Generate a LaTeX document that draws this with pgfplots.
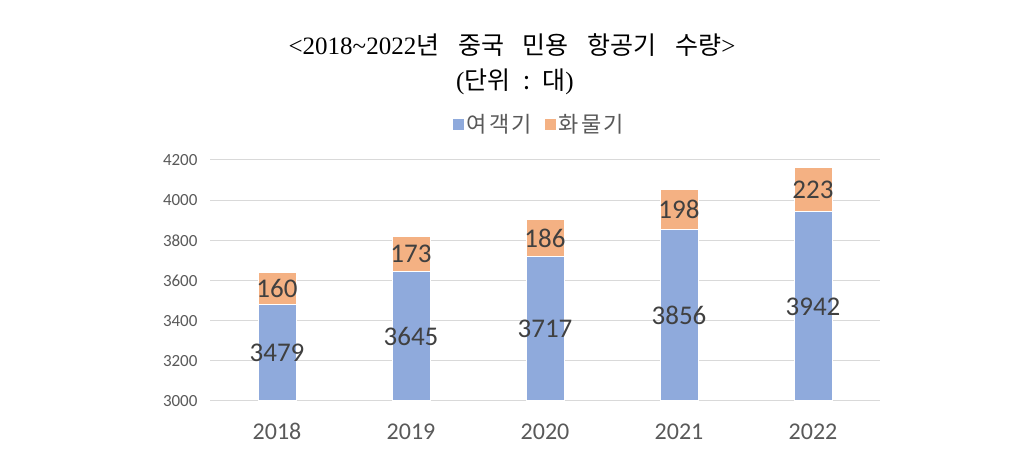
\documentclass[border=0pt]{standalone}
\usepackage{pgfplots}
\usepackage{pgfplotstable}
\pgfplotsset{compat=1.18}
\usepackage{fontspec}
\setmainfont{Carlito}
\newfontfamily\cjk{Noto Sans CJK KR}
\newfontfamily\cjkwide[LetterSpace=10]{Noto Sans CJK KR}
\newfontfamily\serif{Liberation Serif}

\definecolor{pax}{HTML}{8FAADC}
\definecolor{cargo}{HTML}{F4B183}
\definecolor{gridc}{HTML}{D9D9D9}
\definecolor{txt}{HTML}{595959}
\definecolor{lbl}{HTML}{404040}

% year, passenger aircraft, cargo aircraft
\pgfplotstableread{
year pax cargo
2018 3479 160
2019 3645 173
2020 3717 186
2021 3856 198
2022 3942 223
}\planes

\pgfplotsset{
	frame/.style={scale only axis, width=670pt, height=241pt,
		xmin=-0.5, xmax=4.5, ymin=3000, ymax=4200,
		/pgf/number format/assume math mode=true,
		/pgf/number format/1000 sep={}},
}

\begin{document}
\begin{tikzpicture}
\begin{axis}[
	name=ax, frame,
	ybar stacked, bar width=38pt,
	xtick=data, xticklabels from table={\planes}{year},
	ytick={3000,3200,...,4200},
	ymajorgrids, grid style={gridc, line width=1pt},
	axis lines*=left,
	y axis line style={draw=none},
	x axis line style={gridc, line width=1pt},
	major tick length=0pt,
	yticklabel style={font=\fontsize{17}{17}\selectfont, text=txt, xshift=-9pt},
	xticklabel style={font=\fontsize{24}{24}\selectfont, text=txt, yshift=-19pt},
	legend style={at={(0.491,1.149)}, anchor=center, draw=none, legend columns=2,
		font=\cjkwide\fontsize{22}{22}\selectfont, text=txt,
		/tikz/every even column/.append style={column sep=10pt}},
	legend image code/.code={\fill[#1] (0pt,-6pt) rectangle (12pt,6pt);},
]
\addplot[fill=pax, draw=white, line width=1pt] table[x expr=\coordindex, y=pax] {\planes};
\addplot[fill=cargo, draw=white, line width=1pt] table[x expr=\coordindex, y=cargo] {\planes};
\legend{여객기,화물기}
\end{axis}
% value labels, centred in the visible part of each segment
\begin{axis}[
	frame, at={(ax.south west)}, anchor=south west, hide axis, clip=false,
	nodes near coords,
	every node near coord/.style={anchor=center, font=\fontsize{27}{27}\selectfont, text=lbl},
]
\addplot[draw=none, mark=none, point meta=\thisrow{pax}]
	table[x expr=\coordindex, y expr={(\thisrow{pax}+3000)/2}] {\planes};
\addplot[draw=none, mark=none, point meta=\thisrow{cargo}]
	table[x expr=\coordindex, y expr={\thisrow{pax}+\thisrow{cargo}/2}] {\planes};
\end{axis}
\node[font=\fontsize{25}{28}\selectfont] at ([xshift=-33pt,yshift=115pt]ax.north)
	{\serif <2018\textasciitilde 2022\cjk 년\hspace{0.75em}중국\hspace{0.75em}민용\hspace{0.75em}항공기\hspace{0.75em}수량\serif >};
\node[font=\fontsize{25}{28}\selectfont] at ([xshift=-30pt,yshift=78pt]ax.north)
	{\serif (\cjk 단위\hspace{0.5em}:\hspace{0.5em}대\serif )};
\pgfresetboundingbox
\path[use as bounding box] ([xshift=-210pt,yshift=-69pt]ax.south west) rectangle ([xshift=144pt,yshift=160pt]ax.north east);
\end{tikzpicture}
\end{document}
